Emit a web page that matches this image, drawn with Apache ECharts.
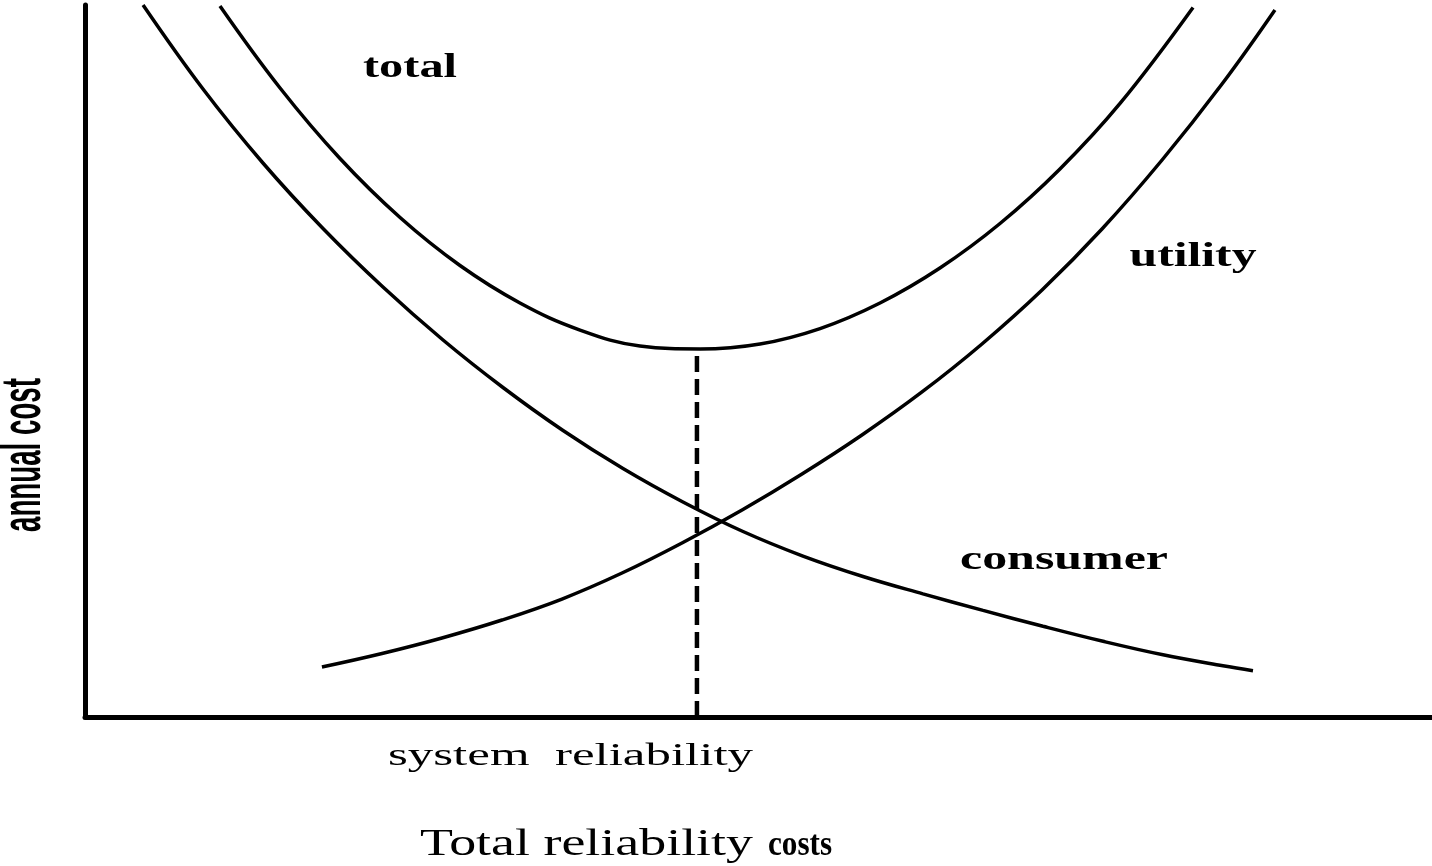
<!DOCTYPE html>
<html><head><meta charset="utf-8">
<script src="https://cdn.jsdelivr.net/npm/echarts@6/dist/echarts.min.js"></script>
<style>html,body{margin:0;padding:0;background:#fff}#c{width:1432px;height:866px}</style>
</head><body><div id="c"></div>
<script>
// Data (arbitrary units: x = system reliability 0..100, y = annual cost 0..100)
const consumerX = [4.31, 8.76, 13.21, 17.67, 22.12, 26.58, 31.03, 35.49, 39.94, 44.39, 48.85, 53.30, 57.76, 62.21, 66.67, 71.12, 75.58, 80.03, 84.48, 86.71];
const consumerY = [100, 88.20, 77.81, 68.61, 60.39, 52.95, 46.28, 40.24, 34.90, 30.20, 26.05, 22.60, 19.73, 17.29, 14.97, 12.74, 10.63, 8.74, 7.19, 6.50];

const utilityX = [17.59, 22.05, 26.50, 30.96, 35.41, 39.87, 44.32, 48.78, 53.23, 57.68, 62.14, 66.59, 71.05, 75.50, 79.96, 84.41, 88.34];
const utilityY = [7.02, 8.92, 11.10, 13.62, 16.57, 20.22, 24.44, 29.07, 34.13, 39.61, 45.65, 52.39, 59.97, 68.54, 78.23, 88.90, 99.30];

const totalX = [10.02, 14.48, 18.93, 23.39, 27.84, 32.29, 36.75, 41.20, 45.66, 50.11, 54.57, 59.02, 63.47, 67.93, 72.38, 76.84, 82.26];
const totalY = [99.86, 88.34, 78.44, 70.15, 63.41, 58.15, 54.35, 52.11, 51.69, 52.39, 54.56, 58.15, 63.06, 69.31, 76.97, 86.17, 99.65];

const optimumX = [45.43, 45.43];
const optimumY = [0, 51.69];

const curveNames = ['total', 'utility', 'consumer'];
const xAxisTitle = 'system  reliability';
const yAxisTitle = 'annual cost';
const captionMain = 'Total reliability';
const captionTail = 'costs';

function pairs(xs, ys) { return xs.map((x, i) => [x, ys[i]]); }

const mctx = document.createElement('canvas').getContext('2d');
function fit(text, font, target) { mctx.font = font; return target / mctx.measureText(text).width; }

const serifB = 'bold 33px "Liberation Serif"';
const serifR = '31px "Liberation Serif"';
const serifR36 = '37px "Liberation Serif"';
const serifB36 = 'bold 36px "Liberation Serif"';
const sansB = 'bold 29px "Liberation Sans"';

function txt(text, font, x, y, w, align, extra) {
  return Object.assign({
    type: 'text', x: x, y: y, scaleX: fit(text, font, w),
    style: { text: text, font: font, fill: '#000', textAlign: align, textVerticalAlign: 'middle', align: align, verticalAlign: 'middle' }
  }, extra || {});
}

const lineStyle = { color: '#000', width: 3.5 };
function curve(name, xs, ys) {
  return { name: name, type: 'line', data: pairs(xs, ys), smooth: 0.4, showSymbol: false, lineStyle: lineStyle, silent: true };
}

const chart = echarts.init(document.getElementById('c'), null, { renderer: 'canvas' });
chart.setOption({
  animation: false,
  backgroundColor: '#fff',
  grid: { left: 85, right: 0, top: 5, bottom: 149 },
  xAxis: {
    type: 'value', min: 0, max: 100,
    axisLine: { show: true, lineStyle: { color: '#000', width: 5 } },
    axisTick: { show: false }, axisLabel: { show: false }, splitLine: { show: false }
  },
  yAxis: {
    type: 'value', min: 0, max: 100,
    axisLine: { show: true, lineStyle: { color: '#000', width: 5 } },
    axisTick: { show: false }, axisLabel: { show: false }, splitLine: { show: false }
  },
  series: [
    curve(curveNames[0], totalX, totalY),
    curve(curveNames[1], utilityX, utilityY),
    curve(curveNames[2], consumerX, consumerY),
    { name: 'optimum', type: 'line', data: pairs(optimumX, optimumY), showSymbol: false, silent: true,
      lineStyle: { color: '#000', width: 4.5, type: [16, 7] } }
  ],
  graphic: [
    txt(curveNames[0], serifB, 410, 68, 94, 'center'),
    txt(curveNames[1], serifB, 1193, 257, 127, 'center'),
    txt(curveNames[2], serifB, 1064, 560, 208, 'center'),
    txt(xAxisTitle, serifR, 388, 757, 365, 'left'),
    txt(captionMain, serifR36, 420, 845, 333, 'left'),
    txt(captionTail, serifB36, 768, 846, 64, 'left'),
    txt(yAxisTitle, sansB, 25, 455, 154, 'center', { rotation: Math.PI / 2, scaleY: 1.9 })
  ]
});
</script></body></html>
